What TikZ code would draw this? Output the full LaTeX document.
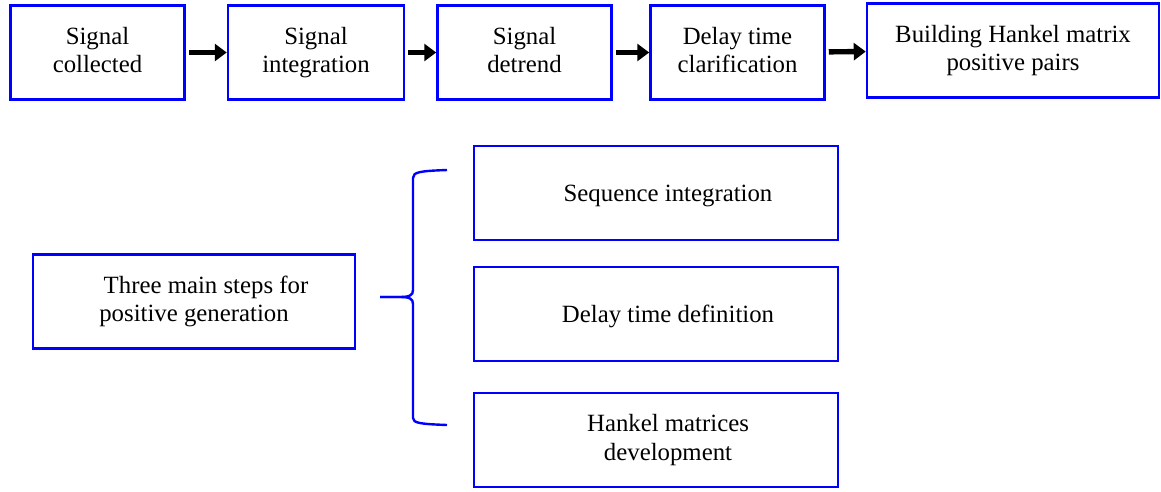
\documentclass[tikz,border=0pt]{standalone}
\usepackage{fontspec}
\setmainfont{Liberation Serif}
\usetikzlibrary{arrows.meta}
\newcommand{\topstrut}{\rule{0pt}{11.5pt}}
\newcommand{\botstrut}{\rule[-2.8pt]{0pt}{2.8pt}}

\begin{document}
\begin{tikzpicture}[x=0.5pt, y=-0.5pt]
        \tikzstyle{every node}=[font=\fontsize{12.4}{14.3}\selectfont, align=center, execute at begin node=\topstrut, execute at end node=\botstrut]
        \tikzstyle{stepbox}=[draw=blue, line width=1.25pt, minimum height=47pt, inner sep=2pt]
        \tikzstyle{flow}=[line width=2.7pt, -{Triangle[length=6pt, width=8.5pt]}, shorten <=1.5pt]
        \tikzstyle{brace}=[draw=blue, line width=1.2pt]
        \useasboundingbox (0,0) rectangle (1161,492);
        % top row
        \node [stepbox, minimum width=87pt] (collect) at (97.5,52.5) {Signal\\collected};
        \node [stepbox, minimum width=88pt] (integ) at (316,52.5) {Signal\\integration};
        \node [stepbox, minimum width=87pt] (detrend) at (524.5,52.5) {Signal\\detrend};
        \node [stepbox, minimum width=87pt] (delay) at (737.5,52.5) {Delay time\\clarification};
        \node [stepbox, minimum width=146pt] (hankel) at (1013,50.5) {Building Hankel matrix\\positive pairs};
        \draw [flow] (collect) -- (integ);
        \draw [flow] (integ) -- (detrend);
        \draw [flow] (detrend) -- (delay);
        \draw [flow] (delay) -- (hankel);
        % lower part
        \node [stepbox, minimum width=161pt] (main) at (194,301.5) {\hspace*{12pt}Three main steps for\\positive generation};
        \node [stepbox, minimum width=182pt] (seq) at (656,193) {\hspace*{12pt}Sequence integration};
        \node [stepbox, minimum width=182pt] (def) at (656,314) {\hspace*{12pt}Delay time definition};
        \node [stepbox, minimum width=182pt] (dev) at (656,440) {\hspace*{12pt}Hankel matrices\\\hspace*{12pt}development};
        \coordinate (tip) at (380,297);
        \coordinate (upper) at (447,170);
        \coordinate (lower) at (447,425);
        \draw [brace] (tip) -- (400,297) .. controls (410,297) and (413,295) .. (413,290) -- (413,178) .. controls (413,172) and (420,171) .. (upper);
        \draw [brace] (tip) -- (400,297) .. controls (410,297) and (413,299) .. (413,304) -- (413,418) .. controls (413,423) and (420,424) .. (lower);
    \end{tikzpicture}
\end{document}
